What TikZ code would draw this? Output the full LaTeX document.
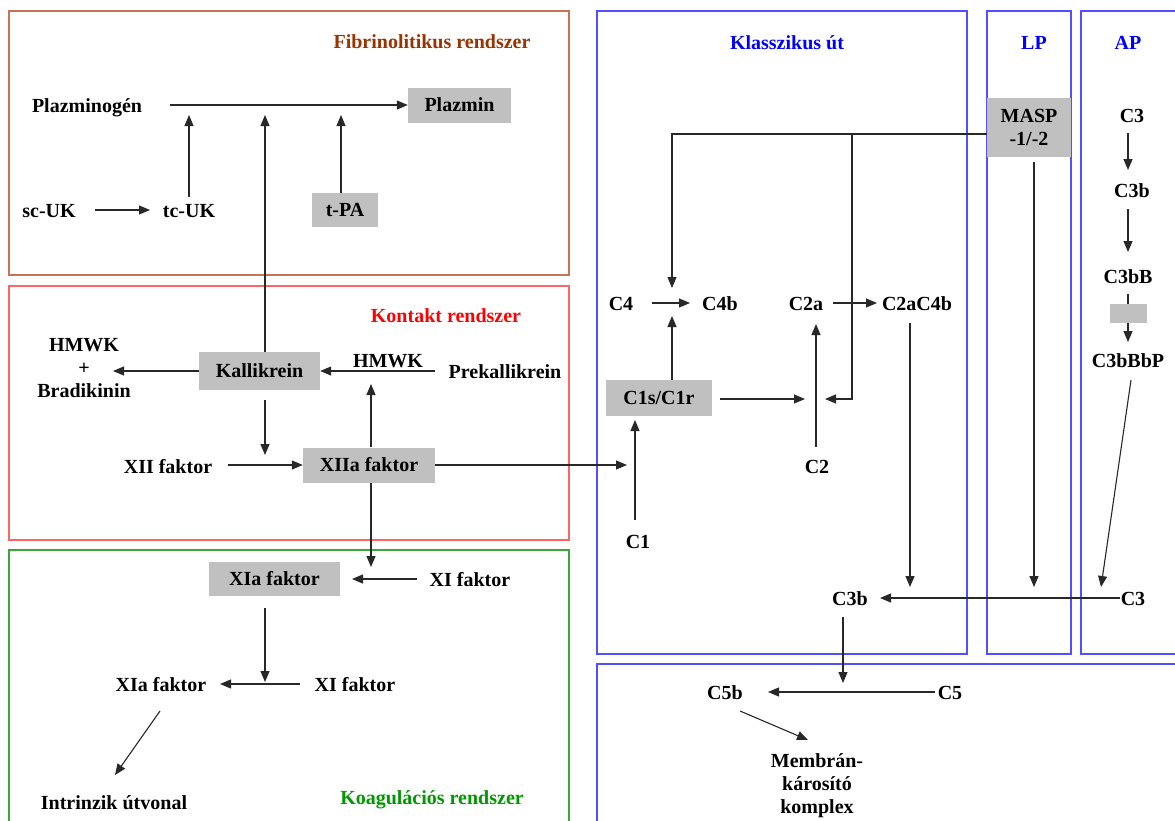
\documentclass[tikz,border=0pt]{standalone}
\usepackage{fontspec}
\setmainfont{Liberation Serif}
\usetikzlibrary{arrows.meta}
\definecolor{fibc}{RGB}{153,51,0}
\definecolor{fibf}{RGB}{200,115,85}
\definecolor{konf}{RGB}{255,100,100}
\definecolor{kont}{RGB}{255,0,0}
\definecolor{koaf}{RGB}{60,165,60}
\definecolor{koat}{RGB}{0,153,0}
\definecolor{bluf}{RGB}{80,80,255}
\definecolor{blut}{RGB}{0,0,255}
\definecolor{boxg}{RGB}{192,192,192}
\definecolor{lnc}{RGB}{40,40,40}
\begin{document}
\begin{tikzpicture}[x=1pt,y=-1pt,
  lbl/.style={font=\bfseries\fontsize{20}{23}\selectfont, inner sep=0pt, text height=14pt, text depth=4pt},
  ml/.style={font=\bfseries\fontsize{20}{23}\selectfont, inner sep=0pt, align=center},
  ttl/.style={font=\bfseries\fontsize{20}{22}\selectfont, inner sep=0pt, text height=14pt, text depth=4pt},
  gbox/.style={lbl, fill=boxg, text depth=1pt},
  arr/.style={draw=lnc, line width=1.1pt, -{Triangle[length=11pt,width=9pt]}},
  ln/.style={draw=lnc, line width=1.1pt},
  frm/.style={line width=1.2pt}]
\clip (0,0) rectangle (1175,820);
\fill[white] (0,0) rectangle (1175,820);
% frames
\draw[frm, fibf] (9,11) rectangle (569,275);
\draw[frm, konf] (9,286) rectangle (569,540);
\draw[frm, koaf] (9,550) rectangle (569,830);
\draw[frm, bluf] (597,11) rectangle (967,654);
\draw[frm, bluf] (987,11) rectangle (1071,654);
\draw[frm, bluf] (1081,11) rectangle (1190,654);
\draw[frm, bluf] (597,664) rectangle (1190,830);
% titles
\node[ttl, fibc] (tfib) at (432,43) {Fibrinolitikus rendszer};
\node[ttl, kont] (tkon) at (446,317) {Kontakt rendszer};
\node[ttl, koat] (tkoa) at (432,799) {Koagulációs rendszer};
\node[ttl, blut] (tkla) at (787,44) {Klasszikus út};
\node[ttl, blut] (tlp) at (1034,44) {LP};
\node[ttl, blut] (tap) at (1128,44) {AP};
% Fibrinolytic
\node[lbl] (plg) at (87,107) {Plazminogén};
\node[gbox, minimum width=103pt, minimum height=35pt] (plm) at (459.5,105) {Plazmin};
\node[lbl] (scuk) at (49,212) {sc-UK};
\node[lbl] (tcuk) at (189,212) {tc-UK};
\node[gbox, minimum width=66pt, minimum height=34pt] (tpa) at (345,210) {t-PA};
\coordinate (plgS) at (170,105);
\draw[arr] (plgS) -- (plm.west);
\coordinate (scE) at (95,210); \coordinate (tcW) at (150,210);
\draw[arr] (scE) -- (tcW);
\coordinate (tcN) at (189,197); \coordinate (a1) at (189,115);
\draw[arr] (tcN) -- (a1);
\coordinate (a3) at (341,115);
\draw[arr] (tpa.north -| a3) -- (a3);
% Kontakt
\node[ml] (hbr) at (84,368) {HMWK\\+\\Bradikinin};
\node[gbox, minimum width=121pt, minimum height=38pt] (kal) at (259.5,371) {Kallikrein};
\node[lbl] (hmwk) at (388,362) {HMWK};
\node[lbl] (pkal) at (505,373) {Prekallikrein};
\node[lbl] (xii) at (168,468) {XII faktor};
\node[gbox, minimum width=132pt, minimum height=35pt] (xiia) at (369,465) {XIIa faktor};
\coordinate (a2) at (265,115);
\draw[arr] (kal.north -| a2) -- (a2);
\coordinate (hbE) at (113,371);
\draw[arr] (kal.west) -- (hbE);
\coordinate (pkW) at (435,371);
\draw[arr] (pkW) -- (kal.east);
\coordinate (kS) at (265,400); \coordinate (kD) at (265,455);
\draw[arr] (kS) -- (kD);
\coordinate (xiiE) at (228,465);
\draw[arr] (xiiE) -- (xiia.west);
\coordinate (hU) at (371,384);
\draw[arr] (xiia.north -| hU) -- (hU);
\coordinate (c1in) at (627,465);
\draw[arr] (xiia.east) -- (c1in);
% Koagulacio
\node[gbox, minimum width=131pt, minimum height=34pt] (xia) at (274.5,579) {XIa faktor};
\node[lbl] (xi) at (470,581) {XI faktor};
\node[lbl] (xia2) at (161,686) {XIa faktor};
\node[lbl] (xi2) at (355,686) {XI faktor};
\node[lbl] (intr) at (114,804) {Intrinzik útvonal};
\coordinate (xD) at (371,567);
\draw[arr] (xiia.south -| xD) -- (xD);
\coordinate (xiW) at (417,579); \coordinate (xiT) at (352,579);
\draw[arr] (xiW) -- (xiT);
\coordinate (xaS) at (265,608); \coordinate (xaD) at (265,682);
\draw[arr] (xaS) -- (xaD);
\coordinate (xi2W) at (300,684); \coordinate (xi2T) at (220,684);
\draw[arr] (xi2W) -- (xi2T);
\coordinate (dg1) at (160,711); \coordinate (dg2) at (115,775);
\draw[arr] (dg1) -- (dg2);
% Klasszikus
\node[gbox, minimum width=84pt, minimum height=59pt, text height=, text depth=, align=center, font=\bfseries\fontsize{20}{23}\selectfont] (masp) at (1029,127) {MASP\\-1/-2};
\node[lbl] (c4) at (621,305) {C4};
\node[lbl] (c4b) at (720,305) {C4b};
\node[lbl] (c2a) at (806,305) {C2a};
\node[lbl] (c2ac4b) at (917,305) {C2aC4b};
\node[gbox, minimum width=106pt, minimum height=36pt] (c1s) at (659,398) {C1s/C1r};
\node[lbl] (c2) at (817,468) {C2};
\node[lbl] (c1) at (638,543) {C1};
\coordinate (mL) at (987,134); \coordinate (mC) at (672,134); \coordinate (mB) at (852,134);
\coordinate (c4T) at (672,288);
\draw[arr] (mL) -- (mC) -- (c4T);
\coordinate (c2T) at (825,399);
\draw[arr] (mB) |- (c2T);
\coordinate (c4E) at (652,303); \coordinate (c4bW) at (690,303);
\draw[arr] (c4E) -- (c4bW);
\coordinate (c4U) at (672,316);
\draw[arr] (c1s.north -| c4U) -- (c4U);
\coordinate (c1sT) at (805,399); \coordinate (c1sE) at (720,399);
\draw[arr] (c1sE) -- (c1sT);
\coordinate (c2aE) at (833,303); \coordinate (c2acW) at (877,303);
\draw[arr] (c2aE) -- (c2acW);
\coordinate (c2N) at (816,447); \coordinate (c2U) at (816,324);
\draw[arr] (c2N) -- (c2U);
\coordinate (c1N) at (635,520); \coordinate (c1U) at (635,420);
\draw[arr] (c1N) -- (c1U);
\coordinate (cacS) at (910,323); \coordinate (cacD) at (910,587);
\draw[arr] (cacS) -- (cacD);
% LP
\coordinate (lpS) at (1034,162); \coordinate (lpD) at (1034,587);
\draw[arr] (lpS) -- (lpD);
% AP
\node[lbl] (ac3) at (1132,117) {C3};
\node[lbl] (ac3b) at (1132,192) {C3b};
\node[lbl] (ac3bb) at (1128,278) {C3bB};
\node[fill=boxg, minimum width=37pt, minimum height=19pt, inner sep=0pt] (dbox) at (1128.5,313.5) {};
\node[lbl] (ac3bbp) at (1128,362) {C3bBbP};
\coordinate (p1) at (1128,133); \coordinate (p2) at (1128,170);
\draw[arr] (p1) -- (p2);
\coordinate (p3) at (1128,209); \coordinate (p4) at (1128,252);
\draw[arr] (p3) -- (p4);
\coordinate (p5) at (1128,294);
\draw[ln] (p5) -- (dbox.north -| p5);
\coordinate (p6) at (1128,342);
\draw[arr] (dbox.south -| p6) -- (p6);
\coordinate (p7) at (1131,380); \coordinate (p8) at (1101,587);
\draw[arr] (p7) -- (p8);
% bottom
\node[lbl] (bc3) at (1133,600) {C3};
\node[lbl] (kc3b) at (850,600) {C3b};
\coordinate (bc3W) at (1120,598); \coordinate (kc3bE) at (880,598);
\draw[arr] (bc3W) -- (kc3bE);
\node[lbl] (c5b) at (725,694) {C5b};
\node[lbl] (c5) at (950,694) {C5};
\coordinate (k3S) at (843,617); \coordinate (k3D) at (843,683);
\draw[arr] (k3S) -- (k3D);
\coordinate (c5W) at (935,692); \coordinate (c5bE) at (768,692);
\draw[arr] (c5W) -- (c5bE);
\node[ml] (mem) at (817,786) {Membrán-\\károsító\\komplex};
\coordinate (d1) at (740,711); \coordinate (d2) at (808,740);
\draw[arr] (d1) -- (d2);
\end{tikzpicture}
\end{document}
